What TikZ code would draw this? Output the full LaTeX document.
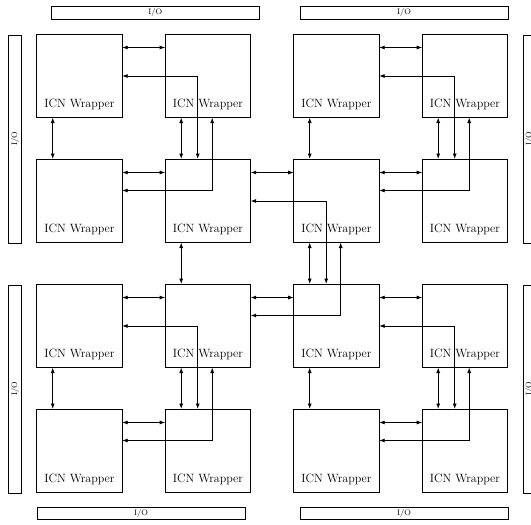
\documentclass[tikz,border=0pt]{standalone}
\usepackage{tikz}
\usetikzlibrary{positioning,arrows.meta}

\begin{document}
\begin{tikzpicture}[
    x=1pt, y=1pt,
    node distance=41.5pt and 43pt,
    wrapper/.style={draw, thick, rectangle, minimum width=85.5pt, minimum height=83.5pt, inner sep=0pt, outer sep=0pt, text height=63.5pt, text depth=0pt, font=\large},
    iobar/.style={draw, semithick, rectangle, minimum width=208pt, minimum height=12.6pt, inner sep=0pt, font=\footnotesize},
    link/.style={{Latex[length=5.5pt,width=4pt]}-{Latex[length=5.5pt,width=4pt]}, thick}
]

\useasboundingbox (0,0) rectangle (531,-525);

% Grid of wrappers, row by row
\node[wrapper, anchor=north west] (w11) at (36.7,-34) {ICN Wrapper};
\node[wrapper, right=of w11] (w12) {ICN Wrapper};
\node[wrapper, right=of w12] (w13) {ICN Wrapper};
\node[wrapper, right=of w13] (w14) {ICN Wrapper};

\node[wrapper, below=of w11] (w21) {ICN Wrapper};
\node[wrapper, right=of w21] (w22) {ICN Wrapper};
\node[wrapper, right=of w22] (w23) {ICN Wrapper};
\node[wrapper, right=of w23] (w24) {ICN Wrapper};

\node[wrapper, below=of w21] (w31) {ICN Wrapper};
\node[wrapper, right=of w31] (w32) {ICN Wrapper};
\node[wrapper, right=of w32] (w33) {ICN Wrapper};
\node[wrapper, right=of w33] (w34) {ICN Wrapper};

\node[wrapper, below=of w31] (w41) {ICN Wrapper};
\node[wrapper, right=of w41] (w42) {ICN Wrapper};
\node[wrapper, right=of w42] (w43) {ICN Wrapper};
\node[wrapper, right=of w43] (w44) {ICN Wrapper};

% I/O bars around the grid
\node[iobar, anchor=south west] (iotl) at ([xshift=14.3pt, yshift=14.7pt]w11.north west) {I/O};
\node[iobar, anchor=south west] (iotr) at ([xshift=6pt, yshift=14.7pt]w13.north west) {I/O};
\node[iobar, anchor=north west] (iobl) at ([yshift=-14.2pt]w41.south west) {I/O};
\node[iobar, anchor=north west] (iobr) at ([xshift=6pt, yshift=-14.2pt]w43.south west) {I/O};
\node[iobar, rotate=90] (iolu) at ([xshift=-21.7pt, yshift=-105pt]w11.north west) {I/O};
\node[iobar, rotate=90] (iold) at ([xshift=-21.7pt, yshift=-105pt]w31.north west) {I/O};
\node[iobar, rotate=90] (ioru) at ([xshift=21.7pt, yshift=-105pt]w14.north east) {I/O};
\node[iobar, rotate=90] (iord) at ([xshift=21.7pt, yshift=-105pt]w34.north east) {I/O};

% Top-left quadrant
\draw[link] ([yshift=-13.5pt]w11.north east) -- ([yshift=-13.5pt]w12.north west);
\draw[link] ([yshift=-13.5pt]w21.north east) -- ([yshift=-13.5pt]w22.north west);
\draw[link] ([xshift=16pt]w11.south west) -- ([xshift=16pt]w21.north west);
\draw[link] ([xshift=16pt]w12.south west) -- ([xshift=16pt]w22.north west);
\draw[link] ([yshift=-42pt]w11.north east) -| ([xshift=32.5pt]w22.north west);
\draw[link] ([yshift=-31.5pt]w21.north east) -| ([xshift=47pt]w12.south west);

% Top-right quadrant
\draw[link] ([yshift=-13.5pt]w13.north east) -- ([yshift=-13.5pt]w14.north west);
\draw[link] ([yshift=-13.5pt]w23.north east) -- ([yshift=-13.5pt]w24.north west);
\draw[link] ([xshift=16pt]w13.south west) -- ([xshift=16pt]w23.north west);
\draw[link] ([xshift=16pt]w14.south west) -- ([xshift=16pt]w24.north west);
\draw[link] ([yshift=-42pt]w13.north east) -| ([xshift=32.5pt]w24.north west);
\draw[link] ([yshift=-31.5pt]w23.north east) -| ([xshift=47pt]w14.south west);

% Bottom-left quadrant
\draw[link] ([yshift=-13.5pt]w31.north east) -- ([yshift=-13.5pt]w32.north west);
\draw[link] ([yshift=-13.5pt]w41.north east) -- ([yshift=-13.5pt]w42.north west);
\draw[link] ([xshift=16pt]w31.south west) -- ([xshift=16pt]w41.north west);
\draw[link] ([xshift=16pt]w32.south west) -- ([xshift=16pt]w42.north west);
\draw[link] ([yshift=-42pt]w31.north east) -| ([xshift=32.5pt]w42.north west);
\draw[link] ([yshift=-31.5pt]w41.north east) -| ([xshift=47pt]w32.south west);

% Bottom-right quadrant
\draw[link] ([yshift=-13.5pt]w33.north east) -- ([yshift=-13.5pt]w34.north west);
\draw[link] ([yshift=-13.5pt]w43.north east) -- ([yshift=-13.5pt]w44.north west);
\draw[link] ([xshift=16pt]w33.south west) -- ([xshift=16pt]w43.north west);
\draw[link] ([xshift=16pt]w34.south west) -- ([xshift=16pt]w44.north west);
\draw[link] ([yshift=-42pt]w33.north east) -| ([xshift=32.5pt]w44.north west);
\draw[link] ([yshift=-31.5pt]w43.north east) -| ([xshift=47pt]w34.south west);

% Centre block joining the quadrants
\draw[link] ([yshift=-13.5pt]w22.north east) -- ([yshift=-13.5pt]w23.north west);
\draw[link] ([yshift=-13.5pt]w32.north east) -- ([yshift=-13.5pt]w33.north west);
\draw[link] ([xshift=16pt]w22.south west) -- ([xshift=16pt]w32.north west);
\draw[link] ([xshift=16pt]w23.south west) -- ([xshift=16pt]w33.north west);
\draw[link] ([yshift=-42pt]w22.north east) -| ([xshift=32.5pt]w33.north west);
\draw[link] ([yshift=-31.5pt]w32.north east) -| ([xshift=47pt]w23.south west);

\end{tikzpicture}
\end{document}
